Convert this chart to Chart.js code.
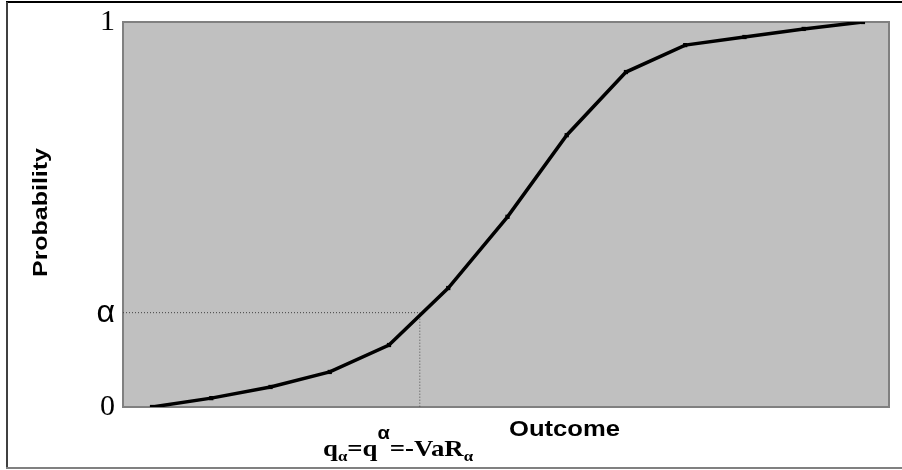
<!DOCTYPE html>
<html>
<head>
<meta charset="utf-8">
<script src="https://cdn.jsdelivr.net/npm/chart.js@4.4.1/dist/chart.umd.min.js"></script>
<style>
  html, body { margin: 0; padding: 0; background: #fff; }
  #wrap { width: 902px; height: 470px; position: relative; }
</style>
</head>
<body>
<div id="wrap"><canvas id="cdf" width="902" height="470"></canvas></div>
<script>
// outcome index and cumulative probability
const outcomes = [0, 1, 2, 3, 4, 5, 6, 7, 8, 9, 10, 11, 12];
const probs = [0, 0.023, 0.052, 0.091, 0.161, 0.309, 0.494, 0.706, 0.870, 0.940, 0.961, 0.982, 1];
const alpha = 0.245;
const varOutcome = 4.52;
const xRange = [-0.49, 12.44];
const yTicks = [0, alpha, 1];
const yTickLabels = ['0', 'α', '1'];

const SANS = '"Liberation Sans", Arial, sans-serif';
const SERIF = '"Liberation Serif", "Times New Roman", serif';

// gray plot box + outer frame
const plotBox = {
    id: 'plotBox',
    beforeDraw(chart) {
        const { ctx, chartArea: a } = chart;
        ctx.save();
        ctx.fillStyle = '#fff';
        ctx.fillRect(0, 0, chart.width, chart.height);
        ctx.fillStyle = '#c0c0c0';
        ctx.fillRect(a.left, a.top, a.right - a.left, a.bottom - a.top);
        ctx.strokeStyle = '#808080';
        ctx.lineWidth = 2;
        ctx.strokeRect(a.left, a.top, a.right - a.left, a.bottom - a.top);
        // frame
        ctx.strokeStyle = '#000';
        ctx.beginPath(); ctx.moveTo(6, 2); ctx.lineTo(902, 2); ctx.stroke();
        ctx.strokeStyle = '#404040';
        ctx.beginPath(); ctx.moveTo(7, 2); ctx.lineTo(7, 469); ctx.stroke();
        ctx.strokeStyle = '#808080';
        ctx.beginPath(); ctx.moveTo(6, 468); ctx.lineTo(902, 468); ctx.stroke();
        ctx.restore();
    }
};

function stretchText(ctx, text, x, y, width) {
    const w = ctx.measureText(text).width;
    ctx.save();
    ctx.translate(x, y);
    ctx.scale(width / w, 1);
    ctx.fillText(text, 0, 0);
    ctx.restore();
}

// axis titles and the quantile label
const labels = {
    id: 'labels',
    afterDraw(chart) {
        const { ctx } = chart;
        ctx.save();
        ctx.fillStyle = '#000';
        ctx.textBaseline = 'alphabetic';
        ctx.textAlign = 'left';

        ctx.font = 'bold 22px ' + SANS;
        stretchText(ctx, 'Outcome', 509, 436, 111);

        ctx.save();
        ctx.translate(47, 277);
        ctx.rotate(-Math.PI / 2);
        ctx.font = 'bold 20px ' + SANS;
        stretchText(ctx, 'Probability', 0, 0, 129);
        ctx.restore();

        // q_α=q^α=-VaR_α
        const big = 'bold 24px ' + SERIF;
        const small = 'bold 15px ' + SERIF;
        const sup = 'bold 18px ' + SANS;
        const parts = [
            ['q', big, 0], ['α', small, 5], ['=q', big, 0], ['α', sup, -17],
            ['=-VaR', big, 0], ['α', small, 5]
        ];
        let total = 0;
        parts.forEach(p => { ctx.font = p[1]; total += ctx.measureText(p[0]).width; });
        ctx.save();
        ctx.translate(323, 456);
        ctx.scale(150 / total, 1);
        let cx = 0;
        parts.forEach(p => {
            ctx.font = p[1];
            ctx.fillText(p[0], cx, p[2]);
            cx += ctx.measureText(p[0]).width;
        });
        ctx.restore();
        ctx.restore();
    }
};

function drawChart() {
    const ctx = document.getElementById('cdf').getContext('2d');
    new Chart(ctx, {
        type: 'line',
        data: {
            datasets: [
                {
                    data: outcomes.map((x, i) => ({ x: x, y: probs[i] })),
                    borderColor: '#000',
                    backgroundColor: '#000',
                    borderWidth: 3.5,
                    pointStyle: 'rect',
                    pointRadius: 3,
                    pointBorderWidth: 0,
                    tension: 0,
                    order: 1
                },
                {
                    data: [{ x: xRange[0], y: alpha }, { x: varOutcome, y: alpha }],
                    borderColor: '#404040',
                    borderWidth: 1,
                    borderDash: [1, 2],
                    pointRadius: 0,
                    order: 2
                },
                {
                    data: [{ x: varOutcome, y: alpha }, { x: varOutcome, y: 0 }],
                    borderColor: '#505050',
                    borderWidth: 1,
                    borderDash: [1, 2],
                    pointRadius: 0,
                    order: 2
                }
            ]
        },
        options: {
            responsive: false,
            animation: false,
            devicePixelRatio: 1,
            layout: { padding: { left: 10, right: 13, top: 22, bottom: 63 } },
            plugins: { legend: { display: false }, tooltip: { enabled: false } },
            scales: {
                x: { type: 'linear', min: xRange[0], max: xRange[1], display: false },
                y: {
                    type: 'linear', min: 0, max: 1,
                    afterBuildTicks: (scale) => { scale.ticks = yTicks.map(v => ({ value: v })); },
                    afterFit: (scale) => {
                        scale.width = 113;
                        scale.paddingTop = 0;
                        scale.paddingBottom = 0;
                    },
                    grid: { display: false, drawTicks: false },
                    border: { display: false },
                    ticks: {
                        padding: 8,
                        color: '#000',
                        callback: (v) => yTickLabels[yTicks.indexOf(v)],
                        font: (c) => (c.tick && c.tick.value === alpha)
                            ? { family: SANS, size: 32 }
                            : { family: SERIF, size: 30 }
                    }
                }
            }
        },
        plugins: [plotBox, labels]
    });
}

Promise.all([
    document.fonts.load('bold 22px "Liberation Sans"'),
    document.fonts.load('32px "Liberation Sans"'),
    document.fonts.load('30px "Liberation Serif"'),
    document.fonts.load('bold 24px "Liberation Serif"')
]).then(drawChart, drawChart);
</script>
</body>
</html>
